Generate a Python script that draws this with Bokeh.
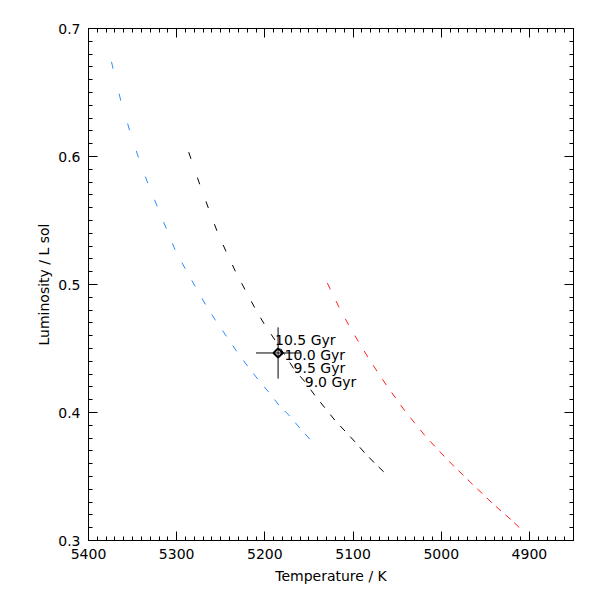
from bokeh.plotting import figure
from bokeh.models import Range1d, LinearAxis, FixedTicker, CustomJSTickFormatter
from bokeh.core.properties import value
from bokeh.embed import file_html
from bokeh.resources import INLINE

# ---- data ----
blue_T = [5380.7, 5372.1, 5363.4, 5353.4, 5343.4, 5332.8, 5322.1, 5311.8, 5301.8, 5290.3, 5278.9,
          5267.4, 5256.0, 5243.5, 5232.0, 5219.5, 5208.1, 5195.6, 5184.2, 5171.7, 5160.4, 5149.0]
blue_L = [0.6936, 0.6686, 0.6437, 0.6205, 0.5992, 0.5792, 0.5611, 0.5437, 0.5271, 0.5123, 0.4984,
          0.4844, 0.4720, 0.4595, 0.4478, 0.4362, 0.4261, 0.4159, 0.4058, 0.3972, 0.3878, 0.3792]

black_T = [5293.9, 5283.8, 5273.9, 5264.1, 5254.4, 5244.1, 5233.4, 5222.6, 5211.6, 5200.9, 5188.5,
           5177.7, 5167.4, 5154.8, 5143.3, 5132.1, 5120.8, 5109.1, 5097.8, 5087.1, 5076.1, 5065.3]
black_L = [0.6189, 0.5982, 0.5783, 0.5598, 0.5420, 0.5259, 0.5103, 0.4961, 0.4820, 0.4693, 0.4566,
           0.4453, 0.4344, 0.4241, 0.4134, 0.4038, 0.3941, 0.3855, 0.3771, 0.3687, 0.3609, 0.3537]
black_age = [15.5, 15.0, 14.5, 14.0, 13.5, 13.0, 12.5, 12.0, 11.5, 11.0, 10.5,
             10.0, 9.5, 9.0, 8.5, 8.0, 7.5, 7.0, 6.5, 6.0, 5.5, 5.0]

red_T = [5135.5, 5125.7, 5115.8, 5105.0, 5093.9, 5083.3, 5072.9, 5062.3, 5051.6, 5041.3, 5030.0,
         5018.6, 5007.2, 4996.4, 4985.5, 4974.8, 4964.4, 4953.3, 4942.6, 4932.2, 4921.1, 4911.6]
red_L = [0.5102, 0.4962, 0.4821, 0.4684, 0.4554, 0.4434, 0.4323, 0.4215, 0.4112, 0.4013, 0.3917,
         0.3821, 0.3735, 0.3657, 0.3579, 0.3509, 0.3438, 0.3366, 0.3295, 0.3230, 0.3165, 0.3102]

label_ages = [10.5, 10.0, 9.5, 9.0]

star_T = [5185.0]
star_L = [0.4465]
star_eT = [25.0]
star_eL = [0.020]

x_ticks = [5400, 5300, 5200, 5100, 5000, 4900]
y_ticks = [0.3, 0.4, 0.5, 0.6, 0.7]
x_minor = [4850 + 10 * i for i in range(56)]
y_minor = [round(0.3 + 0.01 * i, 2) for i in range(41)]

x_start, x_end = 5400, 4850
y_start, y_end = 0.3, 0.7

FONT = "DejaVu Sans"

p = figure(width=592, height=592, output_backend="svg", toolbar_location=None,
           x_range=Range1d(x_start, x_end), y_range=Range1d(y_start, y_end),
           min_border_left=88, min_border_right=19, min_border_top=28, min_border_bottom=52,
           x_axis_label="Temperature / K", y_axis_label="Luminosity / L sol")
p.grid.visible = False
p.outline_line_color = "black"
p.background_fill_color = "white"
p.border_fill_color = "white"

blank = CustomJSTickFormatter(code="return ''")
p.add_layout(LinearAxis(formatter=blank, major_label_standoff=0), "above")
p.add_layout(LinearAxis(formatter=blank, major_label_standoff=0), "right")

for ax in p.xaxis:
    ax.ticker = FixedTicker(ticks=x_ticks, minor_ticks=x_minor)
for ax in p.yaxis:
    ax.ticker = FixedTicker(ticks=y_ticks, minor_ticks=y_minor)

for ax in list(p.xaxis) + list(p.yaxis):
    ax.axis_line_color = "black"
    ax.major_tick_line_color = "black"
    ax.minor_tick_line_color = "black"
    ax.major_tick_in = 9
    ax.major_tick_out = 0
    ax.minor_tick_in = 4
    ax.minor_tick_out = 0
    ax.major_label_text_font = FONT
    ax.major_label_text_font_size = "14px"
    ax.major_label_text_color = "black"
    ax.axis_label_text_font = FONT
    ax.axis_label_text_font_size = "14px"
    ax.axis_label_text_font_style = "normal"
    ax.axis_label_text_color = "black"

for ax in (p.below[0], p.left[0]):
    ax.major_label_standoff = 8
p.below[0].axis_label_standoff = 6
p.left[0].axis_label_standoff = 3

# model tracks: one short dash per model step
for T, L, c in ((blue_T, blue_L, "#2a8cff"), (black_T, black_L, "black"), (red_T, red_L, "#ff2020")):
    p.segment(x0=T[1:], y0=L[1:], x1=T[:-1], y1=L[:-1], line_color=c, line_width=1, line_dash="7 1000")

# age labels on the black track
lab_T = [black_T[black_age.index(a)] for a in label_ages]
lab_L = [black_L[black_age.index(a)] for a in label_ages]
lab_txt = ["%.1f Gyr" % a for a in label_ages]
p.text(x=lab_T, y=lab_L, text=lab_txt, text_font=value(FONT), text_font_size="14px",
       text_align="left", text_baseline="alphabetic", text_color="black")

# observed star with error bars
p.segment(x0=[t - e for t, e in zip(star_T, star_eT)], x1=[t + e for t, e in zip(star_T, star_eT)],
          y0=star_L, y1=star_L, line_color="black", line_width=1)
p.segment(x0=star_T, x1=star_T, y0=[l - e for l, e in zip(star_L, star_eL)],
          y1=[l + e for l, e in zip(star_L, star_eL)], line_color="black", line_width=1)
p.scatter(x=star_T, y=star_L, marker="square", angle=0.7854, size=6.5, fill_color=None,
          line_color="black", line_width=2)

open("out.html", "w").write(file_html(p, INLINE))
